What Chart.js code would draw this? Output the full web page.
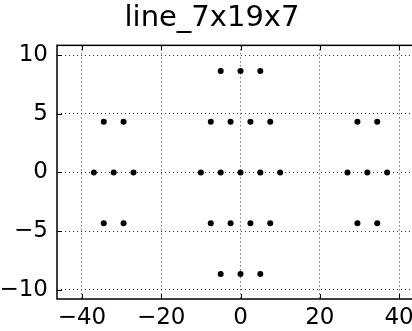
<!DOCTYPE html>
<html>
<head>
<meta charset="utf-8">
<script src="https://cdn.jsdelivr.net/npm/chart.js@4.4.1/dist/chart.umd.min.js"></script>
<style>
  html, body { margin: 0; padding: 0; background: #fff; }
  #wrap { width: 412px; height: 331px; overflow: hidden; }
</style>
</head>
<body>
<div id="wrap"><canvas id="scatter-chart" width="430" height="331"></canvas></div>
<script>
// points of the three hexagonal groups (7 + 19 + 7)
const xValues = [
    -37, -32, -27, -34.5, -29.5, -34.5, -29.5,
    -10, -5, 0, 5, 10, -7.5, -2.5, 2.5, 7.5, -7.5, -2.5, 2.5, 7.5, -5, 0, 5, -5, 0, 5,
    27, 32, 37, 29.5, 34.5, 29.5, 34.5
];
const yValues = [
    0, 0, 0, 4.33, 4.33, -4.33, -4.33,
    0, 0, 0, 0, 0, 4.33, 4.33, 4.33, 4.33, -4.33, -4.33, -4.33, -4.33, 8.66, 8.66, 8.66, -8.66, -8.66, -8.66,
    0, 0, 0, 4.33, 4.33, -4.33, -4.33
];
const xTicks = [-40, -20, 0, 20, 40];
const yTicks = [-10, -5, 0, 5, 10];

const fontFamily = "'DejaVu Sans', sans-serif";

// frame and inward tick marks, matplotlib style
const framePlugin = {
    id: 'frame',
    afterDraw(chart) {
        const { ctx, chartArea: a, scales } = chart;
        ctx.save();
        ctx.strokeStyle = '#000';
        ctx.lineWidth = 1;
        xTicks.forEach(v => {
            const px = Math.round(scales.x.getPixelForValue(v)) + 0.5;
            ctx.beginPath();
            ctx.moveTo(px, a.bottom); ctx.lineTo(px, a.bottom - 5);
            ctx.moveTo(px, a.top); ctx.lineTo(px, a.top + 5);
            ctx.stroke();
        });
        yTicks.forEach(v => {
            const py = Math.round(scales.y.getPixelForValue(v)) + 0.5;
            ctx.beginPath();
            ctx.moveTo(a.left, py); ctx.lineTo(a.left + 5, py);
            ctx.moveTo(a.right, py); ctx.lineTo(a.right - 5, py);
            ctx.stroke();
        });
        ctx.lineWidth = 1.5;
        ctx.strokeRect(a.left, a.top, a.right - a.left, a.bottom - a.top);
        ctx.restore();
    }
};

function initChart() {
    const ctx = document.getElementById('scatter-chart').getContext('2d');
    new Chart(ctx, {
        type: 'scatter',
        data: {
            datasets: [{
                data: xValues.map((x, i) => ({ x: x, y: yValues[i] })),
                backgroundColor: '#000',
                borderColor: '#000',
                pointRadius: 3,
                pointBorderWidth: 0
            }]
        },
        options: {
            responsive: false,
            animation: false,
            devicePixelRatio: 1,
            layout: { padding: { left: 0, right: 6, top: 0, bottom: 0 } },
            plugins: {
                legend: { display: false },
                tooltip: { enabled: false },
                title: {
                    display: true,
                    text: 'line_7x19x7',
                    color: '#000',
                    font: { family: fontFamily, size: 29, weight: 'normal', lineHeight: 1.15 },
                    padding: { top: 2, bottom: 10 }
                }
            },
            scales: {
                x: {
                    type: 'linear',
                    min: -46.3,
                    max: 46.3,
                    afterBuildTicks: s => { s.ticks = xTicks.map(v => ({ value: v })); },
                    afterFit: s => { s.height = 32; },
                    grid: { color: '#333', lineWidth: 1, drawTicks: false },
                    border: { display: false, dash: [1, 3] },
                    ticks: {
                        color: '#000',
                        padding: 5,
                        font: { family: fontFamily, size: 23 },
                        callback: v => String(v).replace('-', '\u2212')
                    }
                },
                y: {
                    type: 'linear',
                    min: -10.8,
                    max: 10.85,
                    afterBuildTicks: s => { s.ticks = yTicks.map(v => ({ value: v })); },
                    afterFit: s => { s.width = 57; },
                    grid: { color: '#333', lineWidth: 1, drawTicks: false },
                    border: { display: false, dash: [1, 3] },
                    ticks: {
                        color: '#000',
                        padding: 9,
                        font: { family: fontFamily, size: 23 },
                        callback: v => String(v).replace('-', '\u2212')
                    }
                }
            }
        },
        plugins: [framePlugin]
    });
}

document.addEventListener("DOMContentLoaded", () => {
    initChart();
});
</script>
</body>
</html>
